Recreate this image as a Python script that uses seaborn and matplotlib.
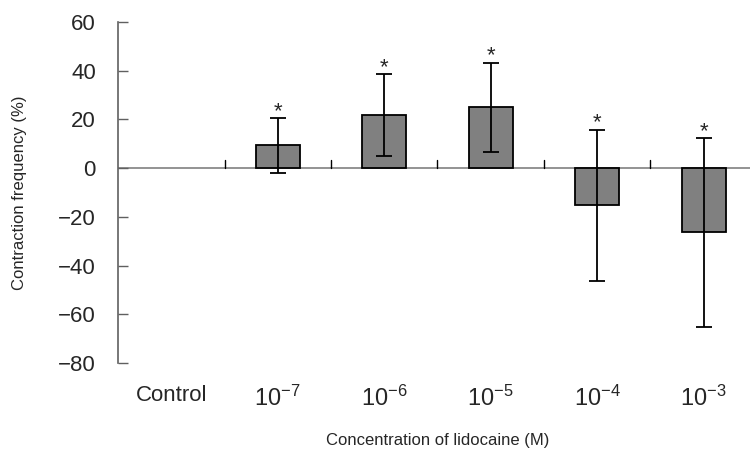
import matplotlib
matplotlib.use('Agg')
import matplotlib.pyplot as plt
import seaborn as sns
import numpy as np
import pandas as pd

# values (control has no bar)
groups = ["Control", "1e-7", "1e-6", "1e-5", "1e-4", "1e-3"]
tick_labels = ["Control", r"$10^{-7}$", r"$10^{-6}$", r"$10^{-5}$", r"$10^{-4}$", r"$10^{-3}$"]
means = [np.nan, 9.3, 21.8, 25.0, -15.2, -26.4]
sds = [np.nan, 11.1, 16.8, 18.2, 31.0, 38.7]
significant = [False, True, True, True, True, True]

sns.set_style("white")
plt.rcParams['font.family'] = ['Liberation Sans', 'DejaVu Sans']
plt.rcParams['mathtext.fontset'] = 'custom'
plt.rcParams['mathtext.rm'] = 'Liberation Sans'
plt.rcParams['mathtext.it'] = 'Liberation Sans'

df = pd.DataFrame({"group": groups, "mean": means, "sd": sds})

fig = plt.figure(figsize=(7.5, 4.58), dpi=100)
ax = fig.add_axes([118 / 750, 1 - 363 / 458, 639 / 750, 341 / 458])

sns.barplot(data=df, x="group", y="mean", order=groups, color="#808080",
            edgecolor="black", linewidth=1.3, width=0.41, saturation=1, ax=ax)
ax.errorbar(np.arange(len(groups)), means, yerr=sds, fmt="none",
            ecolor="black", elinewidth=1.3, capsize=6, capthick=1.3)

for i, (m, s, sig) in enumerate(zip(means, sds, significant)):
    if sig:
        ax.text(i, m + s - 1.5, "*", ha="center", va="bottom", fontsize=16)

ax.axhline(0, color="#808080", linewidth=1.2, zorder=0)
# small tick marks between categories on the zero line
for b in np.arange(0.5, len(groups) - 0.5, 1.0):
    ax.plot([b, b], [0, 3.5], color="black", linewidth=1.0)

ax.set_xlim(-0.5, len(groups) - 0.5)
ax.set_ylim(-80, 60)
ax.set_yticks(np.arange(-80, 61, 20))
ax.set_yticklabels([str(v).replace("-", "\u2212") for v in range(-80, 61, 20)])
ax.set_xticks(range(len(groups)))
ax.set_xticklabels(tick_labels)
for lbl in ax.get_xticklabels()[1:]:
    lbl.set_fontsize(17)

for side in ["top", "right", "bottom"]:
    ax.spines[side].set_visible(False)
ax.spines["left"].set_color("#606060")
ax.spines["left"].set_linewidth(1.2)

ax.tick_params(axis="y", left=True, direction="in", length=7, width=1.0,
               color="#606060", labelsize=16, pad=16)
ax.tick_params(axis="x", bottom=False, length=0, pad=16)
ax.get_xticklabels()[0].set_fontsize(16)

ax.set_xlabel("Concentration of lidocaine (M)", fontsize=12, labelpad=16)
ax.set_ylabel("Contraction frequency (%)", fontsize=12, labelpad=22)

fig.savefig("out.png", dpi=100)
plt.close(fig)
